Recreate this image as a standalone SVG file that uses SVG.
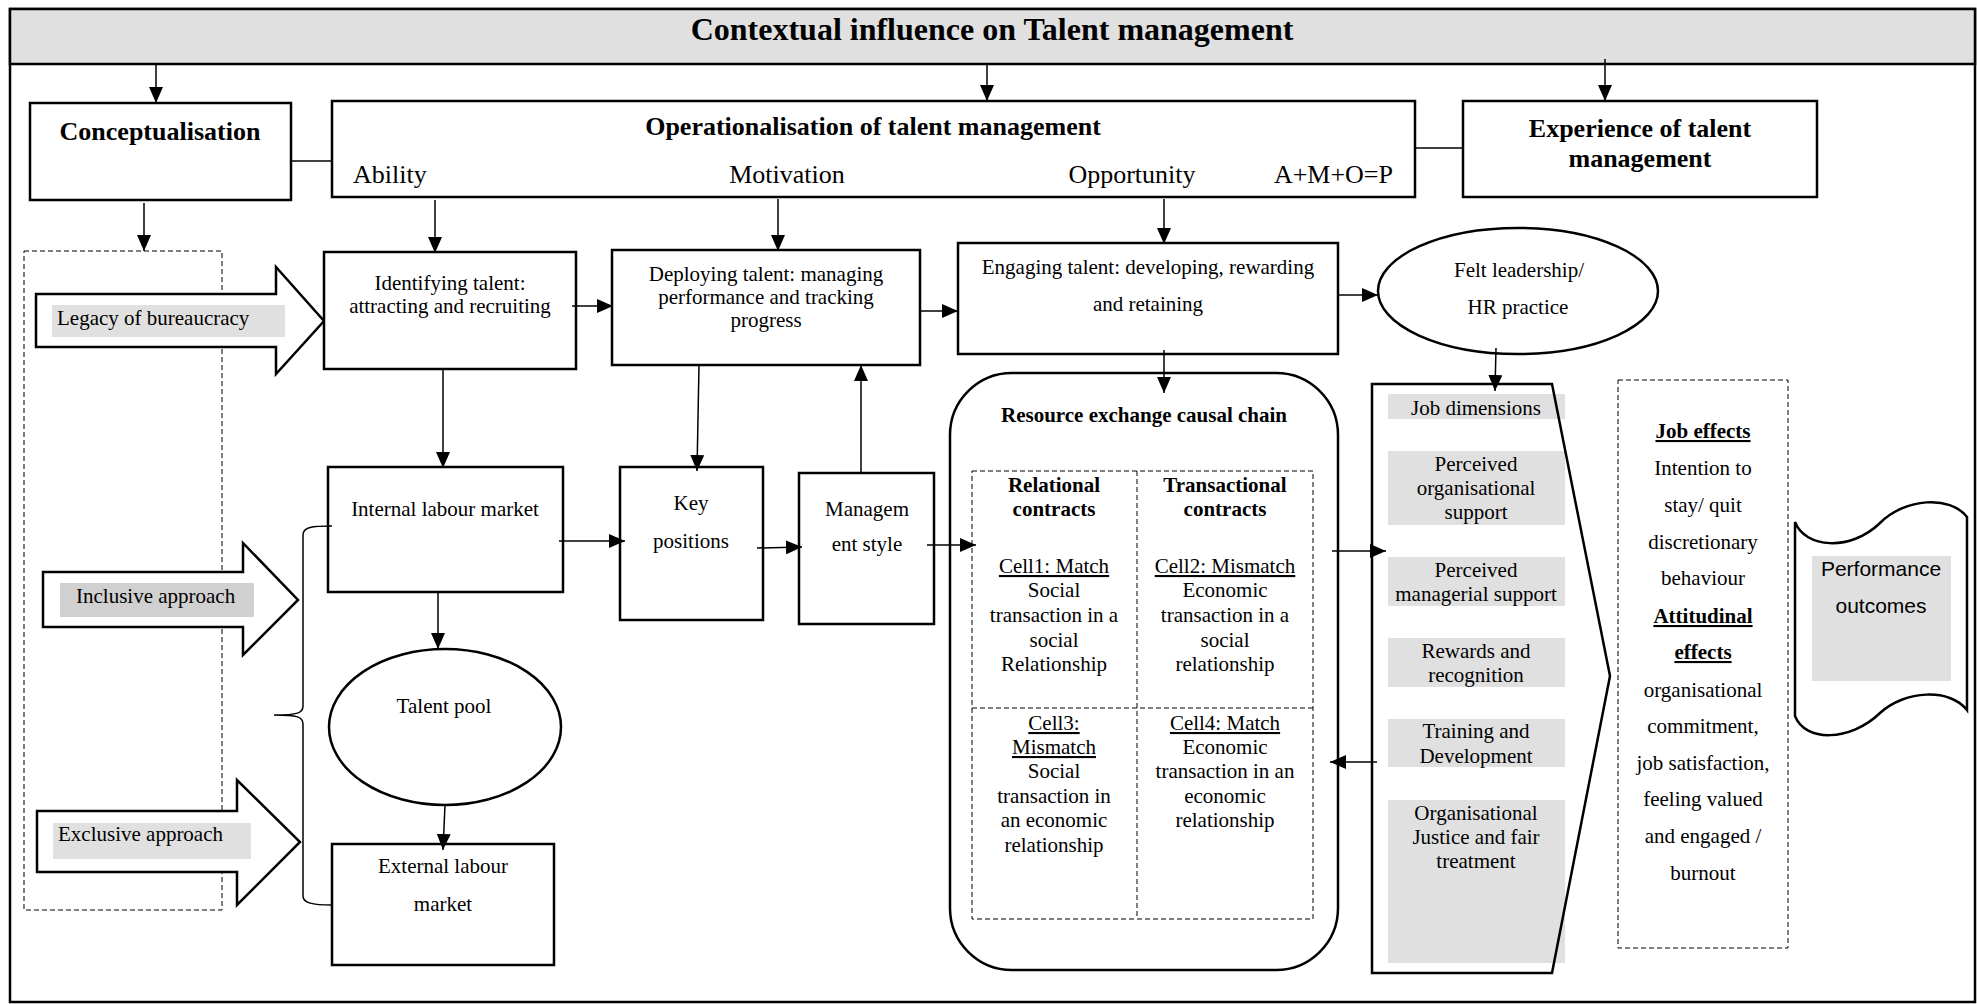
<svg xmlns="http://www.w3.org/2000/svg" width="1977" height="1004" viewBox="0 0 1977 1004">
  <defs>
    <marker id="ah" viewBox="0 0 16 14" refX="16" refY="7" markerWidth="16" markerHeight="14" markerUnits="userSpaceOnUse" orient="auto">
      <path d="M0,0 L16,7 L0,14 Z" fill="#000"/>
    </marker>
    <style>
      .box { fill: #fff; stroke: #000; stroke-width: 2.5; }
      .dash { fill: none; stroke: #000; stroke-width: 1; stroke-dasharray: 5 3; }
      .conn { fill: none; stroke: #000; stroke-width: 1.5; }
      .arr { marker-end: url(#ah); }
      .lbl { fill: #e0e0e0; stroke: none; }
      .lbl2 { fill: #d0d0d0; stroke: none; }
      .t { font-family: "Liberation Serif", "Times New Roman", serif; font-size: 21px; fill: #000; }
      .s { font-family: "Liberation Sans", Arial, sans-serif; font-size: 21px; fill: #000; }
      .b { font-weight: bold; }
      .h { font-size: 26px; }
      .ttl { font-size: 32px; font-weight: bold; }
      .c { text-anchor: middle; }
      .e { text-anchor: end; }
      .u { text-decoration: underline; }
    </style>
  </defs>

  <rect width="1977" height="1004" fill="#fff"/>

  <!-- outer frame and title band -->
  <g id="frame">
    <rect x="10" y="9" width="1965" height="993" fill="#fff" stroke="#000" stroke-width="2.5"/>
    <rect x="10" y="9" width="1965" height="55" fill="#e0e0e0" stroke="#000" stroke-width="2.5"/>
    <text class="t ttl c" x="992" y="40">Contextual influence on Talent management</text>
  </g>

  <g id="conceptualisation">
    <rect class="box" x="30" y="103" width="261" height="97"/>
    <text class="t h b c" x="160" y="140">Conceptualisation</text>
  </g>

  <g id="operationalisation">
    <rect class="box" x="332" y="101" width="1083" height="96"/>
    <text class="t h b c" x="873" y="135">Operationalisation of talent management</text>
    <text class="t h" x="353" y="183">Ability</text>
    <text class="t h c" x="787" y="183">Motivation</text>
    <text class="t h c" x="1132" y="183">Opportunity</text>
    <text class="t h e" x="1393" y="183">A+M+O=P</text>
  </g>

  <g id="experience">
    <rect class="box" x="1463" y="101" width="354" height="96"/>
    <text class="t h b c" x="1640" y="137">Experience of talent</text>
    <text class="t h b c" x="1640" y="167">management</text>
  </g>

  <!-- dashed approaches column -->
  <g id="approaches">
    <rect class="dash" x="24" y="251" width="198" height="659"/>
  </g>

  <g id="legacy">
    <path class="box" d="M36,294 L276,294 L276,267 L324,321 L276,374 L276,347 L36,347 Z"/>
    <rect class="lbl" x="52" y="305" width="233" height="32"/>
    <text class="t" x="57" y="325">Legacy of bureaucracy</text>
  </g>

  <g id="inclusive">
    <path class="box" d="M43,572 L243,572 L243,543 L298,600 L243,655 L243,627 L43,627 Z"/>
    <rect class="lbl2" x="60" y="583" width="194" height="34"/>
    <text class="t" x="76" y="603">Inclusive approach</text>
  </g>

  <g id="exclusive">
    <path class="box" d="M37,811 L237,811 L237,780 L300,842 L237,905 L237,872 L37,872 Z"/>
    <rect class="lbl" x="53" y="823" width="198" height="36"/>
    <text class="t" x="58" y="841">Exclusive approach</text>
  </g>

  <g id="identifying">
    <rect class="box" x="324" y="252" width="252" height="117"/>
    <text class="t c" x="450" y="290">Identifying talent:</text>
    <text class="t c" x="450" y="313">attracting and recruiting</text>
  </g>

  <g id="deploying">
    <rect class="box" x="612" y="250" width="308" height="115"/>
    <text class="t c" x="766" y="281">Deploying talent: managing</text>
    <text class="t c" x="766" y="304">performance and tracking</text>
    <text class="t c" x="766" y="327">progress</text>
  </g>

  <g id="engaging">
    <rect class="box" x="958" y="243" width="380" height="111"/>
    <text class="t c" x="1148" y="274">Engaging talent: developing, rewarding</text>
    <text class="t c" x="1148" y="311">and retaining</text>
  </g>

  <g id="felt-leadership">
    <ellipse class="box" cx="1518" cy="291" rx="140" ry="63"/>
    <text class="t c" x="1519" y="277">Felt leadership/</text>
    <text class="t c" x="1518" y="314">HR practice</text>
  </g>

  <g id="internal-market">
    <rect class="box" x="328" y="467" width="235" height="125"/>
    <text class="t c" x="445" y="516">Internal labour market</text>
  </g>

  <g id="talent-pool">
    <ellipse class="box" cx="445" cy="727" rx="116" ry="78"/>
    <text class="t c" x="444" y="713">Talent pool</text>
  </g>

  <g id="external-market">
    <rect class="box" x="332" y="844" width="222" height="121"/>
    <text class="t c" x="443" y="873">External labour</text>
    <text class="t c" x="443" y="911">market</text>
  </g>

  <g id="key-positions">
    <rect class="box" x="620" y="467" width="143" height="153"/>
    <text class="t c" x="691" y="510">Key</text>
    <text class="t c" x="691" y="548">positions</text>
  </g>

  <g id="management-style">
    <rect class="box" x="799" y="473" width="135" height="151"/>
    <text class="t c" x="867" y="516">Managem</text>
    <text class="t c" x="867" y="551">ent style</text>
  </g>

  <g id="resource-exchange">
    <rect class="box" x="950" y="373" width="388" height="597" rx="62" ry="62"/>
    <text class="t b c" x="1144" y="422">Resource exchange causal chain</text>
    <rect class="dash" x="972" y="471" width="341" height="448"/>
    <line class="dash" x1="1137" y1="471" x2="1137" y2="919"/>
    <line class="dash" x1="972" y1="708" x2="1313" y2="708"/>
    <text class="t b c" x="1054" y="492">Relational</text>
    <text class="t b c" x="1054" y="516">contracts</text>
    <text class="t c u" x="1054" y="573">Cell1: Match</text>
    <text class="t c" x="1054" y="597">Social</text>
    <text class="t c" x="1054" y="622">transaction in a</text>
    <text class="t c" x="1054" y="647">social</text>
    <text class="t c" x="1054" y="671">Relationship</text>
    <text class="t b c" x="1225" y="492">Transactional</text>
    <text class="t b c" x="1225" y="516">contracts</text>
    <text class="t c u" x="1225" y="573">Cell2: Mismatch</text>
    <text class="t c" x="1225" y="597">Economic</text>
    <text class="t c" x="1225" y="622">transaction in a</text>
    <text class="t c" x="1225" y="647">social</text>
    <text class="t c" x="1225" y="671">relationship</text>
    <text class="t c u" x="1054" y="730">Cell3:</text>
    <text class="t c u" x="1054" y="754">Mismatch</text>
    <text class="t c" x="1054" y="778">Social</text>
    <text class="t c" x="1054" y="803">transaction in</text>
    <text class="t c" x="1054" y="827">an economic</text>
    <text class="t c" x="1054" y="852">relationship</text>
    <text class="t c u" x="1225" y="730">Cell4: Match</text>
    <text class="t c" x="1225" y="754">Economic</text>
    <text class="t c" x="1225" y="778">transaction in an</text>
    <text class="t c" x="1225" y="803">economic</text>
    <text class="t c" x="1225" y="827">relationship</text>
  </g>

  <g id="hr-dimensions">
    <rect class="lbl" x="1388" y="394" width="177" height="25"/>
    <rect class="lbl" x="1388" y="451" width="177" height="74"/>
    <rect class="lbl" x="1388" y="557" width="177" height="49"/>
    <rect class="lbl" x="1388" y="638" width="177" height="49"/>
    <rect class="lbl" x="1388" y="719" width="177" height="48"/>
    <rect class="lbl" x="1388" y="800" width="177" height="163"/>
    <path d="M1372,384 L1552,384 L1610,676 L1552,973 L1372,973 Z" fill="none" stroke="#000" stroke-width="2.5"/>
    <text class="t c" x="1476" y="415">Job dimensions</text>
    <text class="t c" x="1476" y="471">Perceived</text>
    <text class="t c" x="1476" y="495">organisational</text>
    <text class="t c" x="1476" y="519">support</text>
    <text class="t c" x="1476" y="577">Perceived</text>
    <text class="t c" x="1476" y="601">managerial support</text>
    <text class="t c" x="1476" y="658">Rewards and</text>
    <text class="t c" x="1476" y="682">recognition</text>
    <text class="t c" x="1476" y="738">Training and</text>
    <text class="t c" x="1476" y="763">Development</text>
    <text class="t c" x="1476" y="820">Organisational</text>
    <text class="t c" x="1476" y="844">Justice and fair</text>
    <text class="t c" x="1476" y="868">treatment</text>
  </g>

  <g id="effects">
    <rect class="dash" x="1618" y="380" width="170" height="568"/>
    <text class="t b c u" x="1703" y="438">Job effects</text>
    <text class="t c" x="1703" y="475">Intention to</text>
    <text class="t c" x="1703" y="512">stay/ quit</text>
    <text class="t c" x="1703" y="549">discretionary</text>
    <text class="t c" x="1703" y="585">behaviour</text>
    <text class="t b c u" x="1703" y="623">Attitudinal</text>
    <text class="t b c u" x="1703" y="659">effects</text>
    <text class="t c" x="1703" y="697">organisational</text>
    <text class="t c" x="1703" y="733">commitment,</text>
    <text class="t c" x="1703" y="770">job satisfaction,</text>
    <text class="t c" x="1703" y="806">feeling valued</text>
    <text class="t c" x="1703" y="843">and engaged /</text>
    <text class="t c" x="1703" y="880">burnout</text>
  </g>

  <g id="performance-outcomes">
    <path d="M1795,522 C1805,548 1850,552 1880,523 C1905,498 1950,495 1967,517 L1967,710 C1950,688 1905,690 1880,713 C1850,742 1805,742 1795,716 Z" fill="#fff" stroke="#000" stroke-width="2.5"/>
    <rect class="lbl" x="1812" y="556" width="139" height="125"/>
    <text class="s c" x="1881" y="576">Performance</text>
    <text class="s c" x="1881" y="613">outcomes</text>
  </g>

  <g id="connectors">
    <line class="conn arr" x1="156" y1="64" x2="156" y2="103"/>
    <line class="conn arr" x1="987" y1="64" x2="987" y2="101"/>
    <line class="conn arr" x1="1605" y1="59" x2="1605" y2="101"/>
    <line class="conn" x1="291" y1="161" x2="332" y2="161"/>
    <line class="conn" x1="1415" y1="148" x2="1463" y2="148"/>
    <line class="conn arr" x1="144" y1="203" x2="144" y2="251"/>
    <line class="conn arr" x1="435" y1="200" x2="435" y2="253"/>
    <line class="conn arr" x1="778" y1="199" x2="778" y2="251"/>
    <line class="conn arr" x1="1164" y1="199" x2="1164" y2="244"/>
    <line class="conn arr" x1="572" y1="306" x2="613" y2="306"/>
    <line class="conn arr" x1="921" y1="311" x2="958" y2="311"/>
    <line class="conn arr" x1="1338" y1="295" x2="1378" y2="295"/>
    <line class="conn arr" x1="443" y1="369" x2="443" y2="468"/>
    <line class="conn arr" x1="559" y1="541" x2="625" y2="541"/>
    <line class="conn arr" x1="438" y1="592" x2="438" y2="649"/>
    <line class="conn arr" x1="445" y1="805" x2="443" y2="850"/>
    <line class="conn arr" x1="699" y1="365" x2="697" y2="471"/>
    <line class="conn arr" x1="757" y1="548" x2="802" y2="547"/>
    <line class="conn arr" x1="861" y1="473" x2="861" y2="365"/>
    <line class="conn arr" x1="927" y1="545" x2="976" y2="545"/>
    <line class="conn arr" x1="1164" y1="350" x2="1164" y2="393"/>
    <line class="conn arr" x1="1496" y1="348" x2="1495" y2="391"/>
    <line class="conn arr" x1="1332" y1="551" x2="1386" y2="551"/>
    <line class="conn arr" x1="1377" y1="762" x2="1330" y2="762"/>
    <path class="conn" d="M332,526 C312,526 303,527 303,535 L303,706 C303,713 298,715 274,715 C298,715 303,717 303,724 L303,896 C303,903 312,905 332,905"/>
  </g>
</svg>
